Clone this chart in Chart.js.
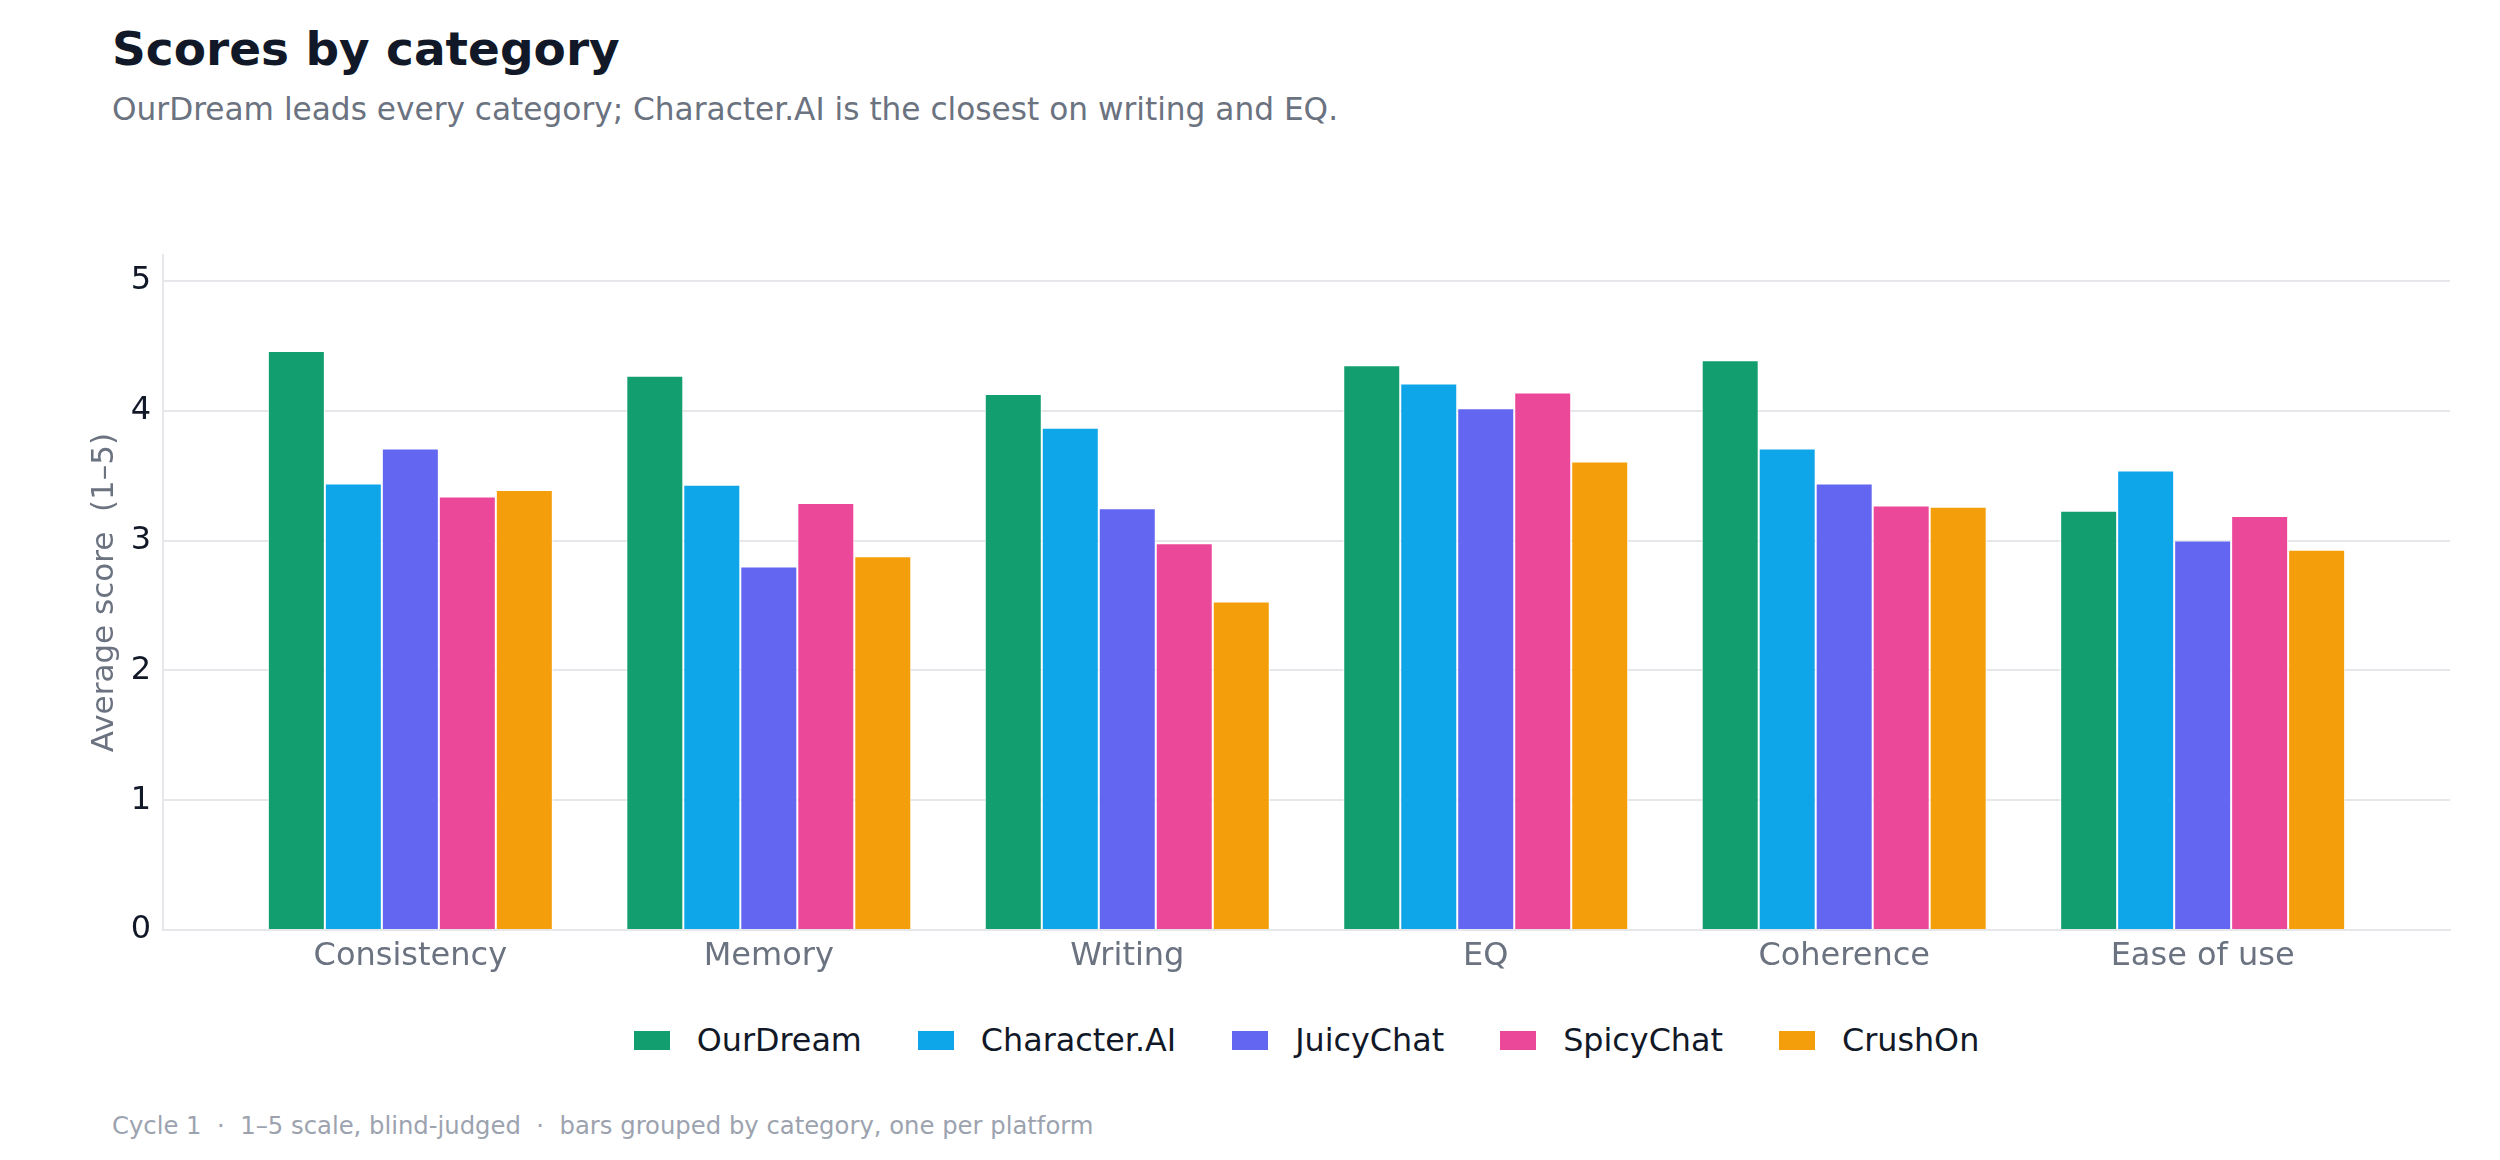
<!DOCTYPE html>
<html lang="en">
<head>
<meta charset="UTF-8">
<title>Scores by category</title>
<script src="https://cdn.jsdelivr.net/npm/chart.js@4.4.1/dist/chart.umd.min.js"></script>
<style>
  html, body { margin: 0; padding: 0; background: #fff; }
  body { width: 2500px; height: 1160px; position: relative; overflow: hidden; font-family: "DejaVu Sans", sans-serif; }
  #title { position: absolute; left: 112px; top: 25px; font-size: 47px; line-height: 47px; font-weight: bold; color: #111827; white-space: nowrap; }
  #subtitle { position: absolute; left: 112px; top: 94px; font-size: 31.2px; line-height: 31px; color: #6b7280; white-space: nowrap; }
  #chartBox { position: absolute; left: 0; top: 203px; width: 2500px; height: 800px; }
  #legend { position: absolute; left: 163px; width: 2287px; top: 1024px; height: 32px; display: flex; justify-content: center; align-items: center; }
  .item { display: flex; align-items: center; margin: 0 28px; font-size: 31.8px; line-height: 32px; color: #111827; white-space: nowrap; }
  .swatch { width: 36px; height: 19px; margin-right: 27px; }
  #footer { position: absolute; left: 112px; top: 1114px; font-size: 24.3px; line-height: 24px; color: #9ca3af; white-space: pre; }
</style>
</head>
<body>

<div id="title">Scores by category</div>
<div id="subtitle">OurDream leads every category; Character.AI is the closest on writing and EQ.</div>
<div id="chartBox"><canvas id="barChart" width="2500" height="800"></canvas></div>
<div id="legend"></div>
<div id="footer">Cycle 1  ·  1–5 scale, blind-judged  ·  bars grouped by category, one per platform</div>

<script>
// categories along the x axis
var categories = ["Consistency", "Memory", "Writing", "EQ", "Coherence", "Ease of use"];

// one series per platform (average score, 1-5)
var platforms = ["OurDream", "Character.AI", "JuicyChat", "SpicyChat", "CrushOn"];
var ourDream    = [4.46, 4.27, 4.13, 4.35, 4.39, 3.23];
var characterAI = [3.44, 3.43, 3.87, 4.21, 3.71, 3.54];
var juicyChat   = [3.71, 2.80, 3.25, 4.02, 3.44, 3.00];
var spicyChat   = [3.34, 3.29, 2.98, 4.14, 3.27, 3.19];
var crushOn     = [3.39, 2.88, 2.53, 3.61, 3.26, 2.93];

var colors = ["#129e6f", "#0fa5e9", "#6366f1", "#ec4899", "#f59e0b"];

// y ticks
var yTicks = [0, 1, 2, 3, 4, 5];

var seriesValues = [ourDream, characterAI, juicyChat, spicyChat, crushOn];

function toPoints(values) {
	var pts = [];
	for (var i = 0; i < values.length; i++) {
		pts.push({ x: i, y: values[i] });
	}
	return pts;
}

var datasets = [];
for (var s = 0; s < platforms.length; s++) {
	datasets.push({
		label: platforms[s],
		data: toPoints(seriesValues[s]),
		backgroundColor: colors[s],
		borderColor: "#ffffff",
		borderWidth: 1,
		categoryPercentage: 0.795,
		barPercentage: 1.0
	});
}

// html legend
var legend = document.getElementById("legend");
for (var k = 0; k < platforms.length; k++) {
	var item = document.createElement("div");
	item.className = "item";
	var sw = document.createElement("span");
	sw.className = "swatch";
	sw.style.background = colors[k];
	var tx = document.createElement("span");
	tx.textContent = platforms[k];
	item.appendChild(sw);
	item.appendChild(tx);
	legend.appendChild(item);
}

Chart.defaults.font.family = "'DejaVu Sans', sans-serif";

var ctx = document.getElementById("barChart").getContext("2d");
var myChart = new Chart(ctx, {
	type: "bar",
	data: { datasets: datasets },
	options: {
		responsive: false,
		animation: false,
		devicePixelRatio: 1,
		layout: { padding: { top: 52, right: 50, left: 0, bottom: 0 } },
		plugins: {
			legend: { display: false },
			title: { display: false },
			tooltip: { enabled: false }
		},
		scales: {
			x: {
				type: "linear",
				offset: false,
				min: -0.69,
				max: 5.69,
				afterBuildTicks: function(scale) {
					scale.ticks = categories.map(function(c, i) { return { value: i }; });
				},
				afterFit: function(scale) { scale.height = 73; },
				grid: { display: false, drawTicks: false, offset: false },
				border: { display: true, color: "#e5e7eb", width: 2 },
				ticks: {
					autoSkip: false,
					maxRotation: 0,
					includeBounds: false,
					padding: 7,
					color: "#6b7280",
					font: { size: 32 },
					callback: function(value) { return categories[value]; }
				}
			},
			y: {
				min: 0,
				max: 5.2,
				afterBuildTicks: function(scale) {
					scale.ticks = yTicks.map(function(v) { return { value: v }; });
				},
				afterFit: function(scale) { scale.width = 163; },
				grid: { color: "#e5e7eb", lineWidth: 2, drawTicks: false },
				border: { display: true, color: "#e5e7eb", width: 2 },
				ticks: {
					includeBounds: false,
					padding: 12,
					color: "#111827",
					font: { size: 32 }
				},
				title: {
					display: true,
					text: "Average score  (1–5)",
					color: "#6b7280",
					font: { size: 31, lineHeight: 1.2 },
					padding: { top: 86, bottom: 0 }
				}
			}
		}
	}
});
</script>

</body>
</html>
